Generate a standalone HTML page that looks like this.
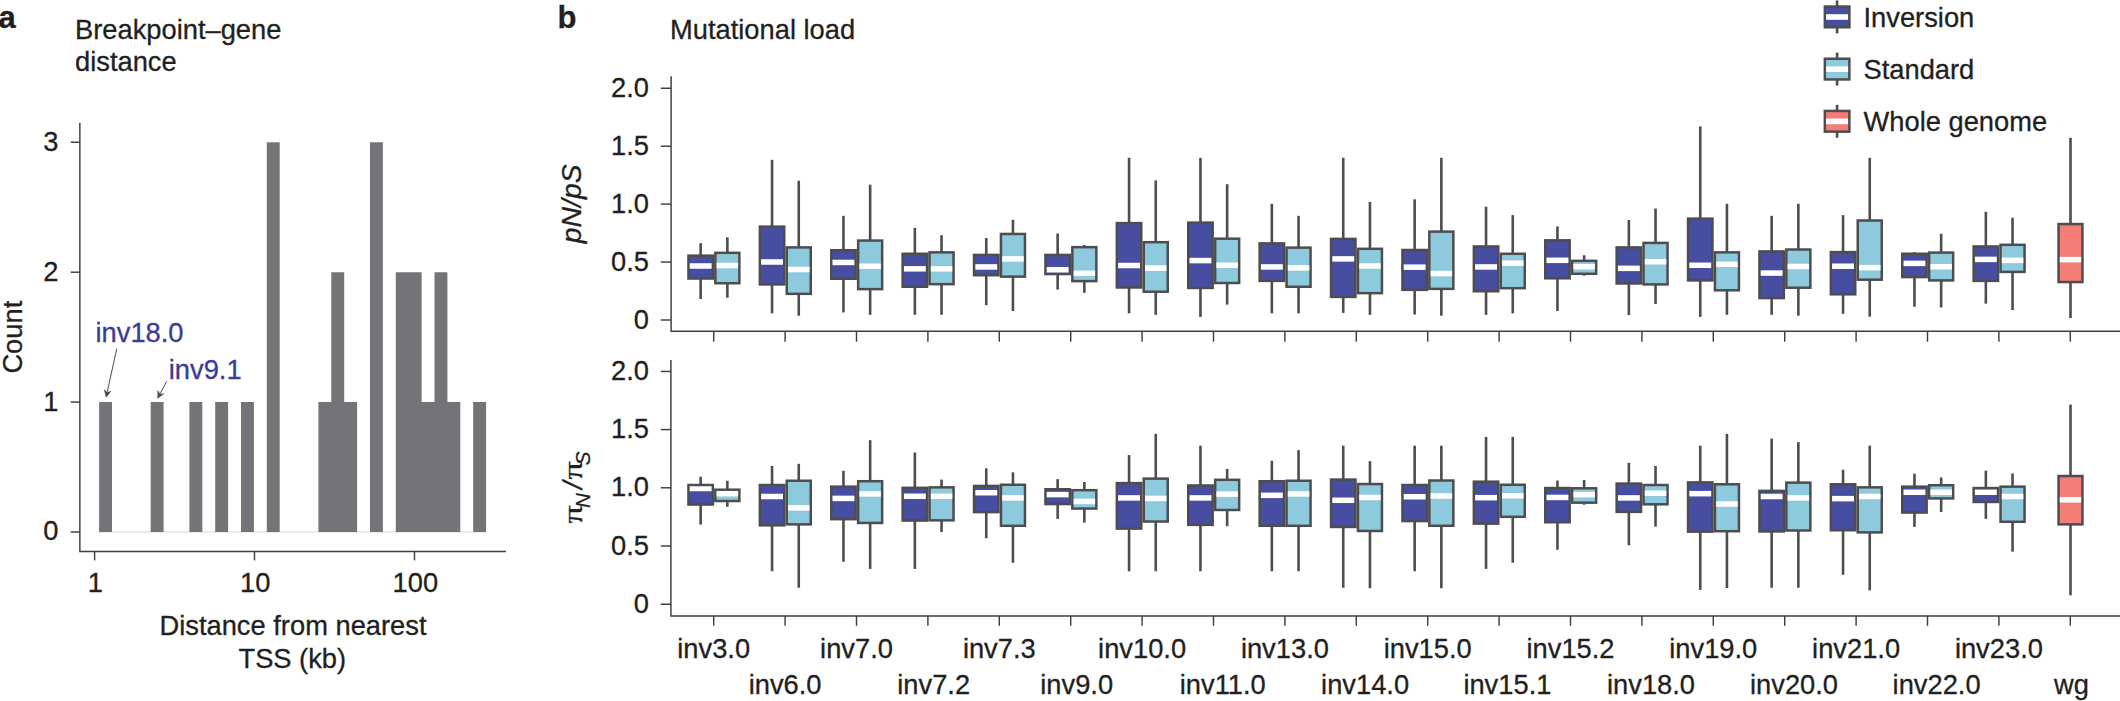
<!DOCTYPE html>
<html><head><meta charset="utf-8"><title>Figure</title>
<style>html,body{margin:0;padding:0;background:#fff}svg{display:block}text{font-family:"Liberation Sans",sans-serif;color:#231f20;fill:currentColor;stroke:currentColor;stroke-width:.3px}</style></head><body>
<svg width="2120" height="701" viewBox="0 0 2120 701">
<rect width="2120" height="701" fill="#fff"/>
<text x="-1.5" y="28" font-size="31" font-weight="bold">a</text>
<text x="75" y="39.1" font-size="27.3">Breakpoint–gene</text>
<text x="75" y="71.4" font-size="27.3">distance</text>
<rect x="99.1" y="531.4" width="387.0" height="1.1" fill="#d9d9da"/>
<path d="M99.10 532.00V402.10H112.00V532.00Z" fill="#737477"/>
<path d="M150.70 532.00V402.10H163.60V532.00Z" fill="#737477"/>
<path d="M189.40 532.00V402.10H202.30V532.00Z" fill="#737477"/>
<path d="M215.20 532.00V402.10H228.10V532.00Z" fill="#737477"/>
<path d="M241.00 532.00V402.10H253.90V532.00Z" fill="#737477"/>
<path d="M266.80 532.00V142.25H279.70V532.00Z" fill="#737477"/>
<path d="M318.40 532.00V402.10H331.30V272.20H344.20V402.10H357.10V532.00Z" fill="#737477"/>
<path d="M370.00 532.00V142.25H382.90V532.00Z" fill="#737477"/>
<path d="M395.80 532.00V272.20H408.70V272.20H421.60V402.10H434.50V272.20H447.40V402.10H460.30V532.00Z" fill="#737477"/>
<path d="M473.20 532.00V402.10H486.10V532.00Z" fill="#737477"/>
<path d="M79.85 122.8V551.4H506" fill="none" stroke="#3e3e40" stroke-width="1.45"/>
<line x1="70.7" x2="79.85" y1="532.0" y2="532.0" stroke="#3e3e40" stroke-width="1.45"/>
<text x="58.5" y="540.4" font-size="27.3" text-anchor="end">0</text>
<line x1="70.7" x2="79.85" y1="402.1" y2="402.1" stroke="#3e3e40" stroke-width="1.45"/>
<text x="58.5" y="410.5" font-size="27.3" text-anchor="end">1</text>
<line x1="70.7" x2="79.85" y1="272.2" y2="272.2" stroke="#3e3e40" stroke-width="1.45"/>
<text x="58.5" y="280.6" font-size="27.3" text-anchor="end">2</text>
<line x1="70.7" x2="79.85" y1="142.25" y2="142.25" stroke="#3e3e40" stroke-width="1.45"/>
<text x="58.5" y="150.7" font-size="27.3" text-anchor="end">3</text>
<line x1="94.6" x2="94.6" y1="551.4" y2="560.4" stroke="#3e3e40" stroke-width="1.45"/>
<text x="95.39999999999999" y="592.4" font-size="27.3" text-anchor="middle">1</text>
<line x1="254.5" x2="254.5" y1="551.4" y2="560.4" stroke="#3e3e40" stroke-width="1.45"/>
<text x="255.3" y="592.4" font-size="27.3" text-anchor="middle">10</text>
<line x1="414.5" x2="414.5" y1="551.4" y2="560.4" stroke="#3e3e40" stroke-width="1.45"/>
<text x="415.3" y="592.4" font-size="27.3" text-anchor="middle">100</text>
<text transform="translate(22.2 337.2) rotate(-90)" font-size="27.3" text-anchor="middle">Count</text>
<text x="293" y="634.6" font-size="27.3" text-anchor="middle">Distance from nearest</text>
<text x="292.3" y="667.5" font-size="27.3" text-anchor="middle">TSS (kb)</text>
<text x="95.5" y="342.1" font-size="27.3" style="color:#3b3b98">inv18.0</text>
<text x="168.8" y="378.5" font-size="27.3" style="color:#3b3b98">inv9.1</text>
<line x1="116.80" y1="348.50" x2="107.20" y2="392.23" stroke="#4d4d4f" stroke-width="1"/>
<path d="M106.00 397.70L103.81 389.03L107.20 392.23L111.62 390.74Z" fill="#4d4d4f"/>
<line x1="166.70" y1="381.30" x2="160.04" y2="393.76" stroke="#4d4d4f" stroke-width="1"/>
<path d="M157.40 398.70L157.64 389.76L160.04 393.76L164.70 393.53Z" fill="#4d4d4f"/>
<text x="557.5" y="28" font-size="31" font-weight="bold">b</text>
<text x="670" y="38.9" font-size="27.3">Mutational load</text>
<path d="M671.1 76.2V331.15H2120" fill="none" stroke="#3e3e40" stroke-width="1.45"/>
<path d="M670.9 360V615.9H2120" fill="none" stroke="#3e3e40" stroke-width="1.45"/>
<line x1="660.8" x2="671" y1="88.25" y2="88.25" stroke="#3e3e40" stroke-width="1.45"/>
<text x="649" y="96.8" font-size="27.3" text-anchor="end">2.0</text>
<line x1="660.8" x2="671" y1="146.2" y2="146.2" stroke="#3e3e40" stroke-width="1.45"/>
<text x="649" y="154.7" font-size="27.3" text-anchor="end">1.5</text>
<line x1="660.8" x2="671" y1="204.1" y2="204.1" stroke="#3e3e40" stroke-width="1.45"/>
<text x="649" y="212.6" font-size="27.3" text-anchor="end">1.0</text>
<line x1="660.8" x2="671" y1="262.05" y2="262.05" stroke="#3e3e40" stroke-width="1.45"/>
<text x="649" y="270.6" font-size="27.3" text-anchor="end">0.5</text>
<line x1="660.8" x2="671" y1="320.0" y2="320.0" stroke="#3e3e40" stroke-width="1.45"/>
<text x="649" y="328.5" font-size="27.3" text-anchor="end">0</text>
<line x1="660.8" x2="671" y1="371.45" y2="371.45" stroke="#3e3e40" stroke-width="1.45"/>
<text x="649" y="379.9" font-size="27.3" text-anchor="end">2.0</text>
<line x1="660.8" x2="671" y1="429.6" y2="429.6" stroke="#3e3e40" stroke-width="1.45"/>
<text x="649" y="438.1" font-size="27.3" text-anchor="end">1.5</text>
<line x1="660.8" x2="671" y1="487.8" y2="487.8" stroke="#3e3e40" stroke-width="1.45"/>
<text x="649" y="496.3" font-size="27.3" text-anchor="end">1.0</text>
<line x1="660.8" x2="671" y1="546.0" y2="546.0" stroke="#3e3e40" stroke-width="1.45"/>
<text x="649" y="554.5" font-size="27.3" text-anchor="end">0.5</text>
<line x1="660.8" x2="671" y1="604.25" y2="604.25" stroke="#3e3e40" stroke-width="1.45"/>
<text x="649" y="612.8" font-size="27.3" text-anchor="end">0</text>
<line x1="713.70" x2="713.70" y1="331.15" y2="341.7" stroke="#3e3e40" stroke-width="1.45"/>
<line x1="713.70" x2="713.70" y1="615.9" y2="625.8" stroke="#3e3e40" stroke-width="1.45"/>
<text x="713.70" y="657.6" font-size="27.3" text-anchor="middle">inv3.0</text>
<line x1="785.10" x2="785.10" y1="331.15" y2="341.7" stroke="#3e3e40" stroke-width="1.45"/>
<line x1="785.10" x2="785.10" y1="615.9" y2="625.8" stroke="#3e3e40" stroke-width="1.45"/>
<text x="785.10" y="694.4" font-size="27.3" text-anchor="middle">inv6.0</text>
<line x1="856.50" x2="856.50" y1="331.15" y2="341.7" stroke="#3e3e40" stroke-width="1.45"/>
<line x1="856.50" x2="856.50" y1="615.9" y2="625.8" stroke="#3e3e40" stroke-width="1.45"/>
<text x="856.50" y="657.6" font-size="27.3" text-anchor="middle">inv7.0</text>
<line x1="927.90" x2="927.90" y1="331.15" y2="341.7" stroke="#3e3e40" stroke-width="1.45"/>
<line x1="927.90" x2="927.90" y1="615.9" y2="625.8" stroke="#3e3e40" stroke-width="1.45"/>
<text x="933.70" y="694.4" font-size="27.3" text-anchor="middle">inv7.2</text>
<line x1="999.30" x2="999.30" y1="331.15" y2="341.7" stroke="#3e3e40" stroke-width="1.45"/>
<line x1="999.30" x2="999.30" y1="615.9" y2="625.8" stroke="#3e3e40" stroke-width="1.45"/>
<text x="999.30" y="657.6" font-size="27.3" text-anchor="middle">inv7.3</text>
<line x1="1070.70" x2="1070.70" y1="331.15" y2="341.7" stroke="#3e3e40" stroke-width="1.45"/>
<line x1="1070.70" x2="1070.70" y1="615.9" y2="625.8" stroke="#3e3e40" stroke-width="1.45"/>
<text x="1076.70" y="694.4" font-size="27.3" text-anchor="middle">inv9.0</text>
<line x1="1142.10" x2="1142.10" y1="331.15" y2="341.7" stroke="#3e3e40" stroke-width="1.45"/>
<line x1="1142.10" x2="1142.10" y1="615.9" y2="625.8" stroke="#3e3e40" stroke-width="1.45"/>
<text x="1142.10" y="657.6" font-size="27.3" text-anchor="middle">inv10.0</text>
<line x1="1213.50" x2="1213.50" y1="331.15" y2="341.7" stroke="#3e3e40" stroke-width="1.45"/>
<line x1="1213.50" x2="1213.50" y1="615.9" y2="625.8" stroke="#3e3e40" stroke-width="1.45"/>
<text x="1222.80" y="694.4" font-size="27.3" text-anchor="middle">inv11.0</text>
<line x1="1284.90" x2="1284.90" y1="331.15" y2="341.7" stroke="#3e3e40" stroke-width="1.45"/>
<line x1="1284.90" x2="1284.90" y1="615.9" y2="625.8" stroke="#3e3e40" stroke-width="1.45"/>
<text x="1284.90" y="657.6" font-size="27.3" text-anchor="middle">inv13.0</text>
<line x1="1356.30" x2="1356.30" y1="331.15" y2="341.7" stroke="#3e3e40" stroke-width="1.45"/>
<line x1="1356.30" x2="1356.30" y1="615.9" y2="625.8" stroke="#3e3e40" stroke-width="1.45"/>
<text x="1365.10" y="694.4" font-size="27.3" text-anchor="middle">inv14.0</text>
<line x1="1427.70" x2="1427.70" y1="331.15" y2="341.7" stroke="#3e3e40" stroke-width="1.45"/>
<line x1="1427.70" x2="1427.70" y1="615.9" y2="625.8" stroke="#3e3e40" stroke-width="1.45"/>
<text x="1427.70" y="657.6" font-size="27.3" text-anchor="middle">inv15.0</text>
<line x1="1499.10" x2="1499.10" y1="331.15" y2="341.7" stroke="#3e3e40" stroke-width="1.45"/>
<line x1="1499.10" x2="1499.10" y1="615.9" y2="625.8" stroke="#3e3e40" stroke-width="1.45"/>
<text x="1507.40" y="694.4" font-size="27.3" text-anchor="middle">inv15.1</text>
<line x1="1570.50" x2="1570.50" y1="331.15" y2="341.7" stroke="#3e3e40" stroke-width="1.45"/>
<line x1="1570.50" x2="1570.50" y1="615.9" y2="625.8" stroke="#3e3e40" stroke-width="1.45"/>
<text x="1570.50" y="657.6" font-size="27.3" text-anchor="middle">inv15.2</text>
<line x1="1641.90" x2="1641.90" y1="331.15" y2="341.7" stroke="#3e3e40" stroke-width="1.45"/>
<line x1="1641.90" x2="1641.90" y1="615.9" y2="625.8" stroke="#3e3e40" stroke-width="1.45"/>
<text x="1651.00" y="694.4" font-size="27.3" text-anchor="middle">inv18.0</text>
<line x1="1713.30" x2="1713.30" y1="331.15" y2="341.7" stroke="#3e3e40" stroke-width="1.45"/>
<line x1="1713.30" x2="1713.30" y1="615.9" y2="625.8" stroke="#3e3e40" stroke-width="1.45"/>
<text x="1713.30" y="657.6" font-size="27.3" text-anchor="middle">inv19.0</text>
<line x1="1784.70" x2="1784.70" y1="331.15" y2="341.7" stroke="#3e3e40" stroke-width="1.45"/>
<line x1="1784.70" x2="1784.70" y1="615.9" y2="625.8" stroke="#3e3e40" stroke-width="1.45"/>
<text x="1794.00" y="694.4" font-size="27.3" text-anchor="middle">inv20.0</text>
<line x1="1856.10" x2="1856.10" y1="331.15" y2="341.7" stroke="#3e3e40" stroke-width="1.45"/>
<line x1="1856.10" x2="1856.10" y1="615.9" y2="625.8" stroke="#3e3e40" stroke-width="1.45"/>
<text x="1856.10" y="657.6" font-size="27.3" text-anchor="middle">inv21.0</text>
<line x1="1927.50" x2="1927.50" y1="331.15" y2="341.7" stroke="#3e3e40" stroke-width="1.45"/>
<line x1="1927.50" x2="1927.50" y1="615.9" y2="625.8" stroke="#3e3e40" stroke-width="1.45"/>
<text x="1936.60" y="694.4" font-size="27.3" text-anchor="middle">inv22.0</text>
<line x1="1998.90" x2="1998.90" y1="331.15" y2="341.7" stroke="#3e3e40" stroke-width="1.45"/>
<line x1="1998.90" x2="1998.90" y1="615.9" y2="625.8" stroke="#3e3e40" stroke-width="1.45"/>
<text x="1998.90" y="657.6" font-size="27.3" text-anchor="middle">inv23.0</text>
<line x1="2070.30" x2="2070.30" y1="331.15" y2="341.7" stroke="#3e3e40" stroke-width="1.45"/>
<line x1="2070.30" x2="2070.30" y1="615.9" y2="625.8" stroke="#3e3e40" stroke-width="1.45"/>
<text x="2071.40" y="694.4" font-size="27.3" text-anchor="middle">wg</text>
<text transform="translate(581.2 203.8) rotate(-90)" font-size="28.3" font-style="italic" text-anchor="middle">pN/pS</text>
<g transform="translate(581.7 522.5) rotate(-90)">
<text transform="translate(-1 0) scale(1.3 1)" style="font-family:'Liberation Serif',serif" font-size="27.8">π</text>
<text x="14.4" y="8.5" font-size="20.6" font-style="italic">N</text>
<text transform="translate(31.9 0) skewX(-11)" font-size="27.3">/</text>
<text transform="translate(43 0) scale(1.3 1)" style="font-family:'Liberation Serif',serif" font-size="27.8">π</text>
<text x="57.2" y="8.5" font-size="20.6" font-style="italic">S</text>
</g>
<line x1="700.65" y1="243.18" x2="700.65" y2="255.41" stroke="#4d4d4f" stroke-width="2.6"/>
<line x1="700.65" y1="278.76" x2="700.65" y2="298.97" stroke="#4d4d4f" stroke-width="2.6"/>
<rect x="688.45" y="255.66" width="24.40" height="22.86" fill="#474ea1" stroke="#4d4d4f" stroke-width="2.5"/>
<rect x="689.70" y="263.24" width="21.90" height="5.50" fill="#fff"/>
<line x1="727.35" y1="237.29" x2="727.35" y2="252.58" stroke="#4d4d4f" stroke-width="2.6"/>
<line x1="727.35" y1="283.48" x2="727.35" y2="297.79" stroke="#4d4d4f" stroke-width="2.6"/>
<rect x="715.35" y="252.83" width="24.00" height="30.40" fill="#8ecade" stroke="#4d4d4f" stroke-width="2.5"/>
<rect x="716.60" y="262.77" width="21.50" height="5.50" fill="#fff"/>
<line x1="772.05" y1="159.80" x2="772.05" y2="226.40" stroke="#4d4d4f" stroke-width="2.6"/>
<line x1="772.05" y1="284.66" x2="772.05" y2="313.36" stroke="#4d4d4f" stroke-width="2.6"/>
<rect x="759.85" y="226.65" width="24.40" height="57.76" fill="#474ea1" stroke="#4d4d4f" stroke-width="2.5"/>
<rect x="761.10" y="259.23" width="21.90" height="5.50" fill="#fff"/>
<line x1="798.75" y1="180.68" x2="798.75" y2="247.15" stroke="#4d4d4f" stroke-width="2.6"/>
<line x1="798.75" y1="294.09" x2="798.75" y2="315.72" stroke="#4d4d4f" stroke-width="2.6"/>
<rect x="786.75" y="247.40" width="24.00" height="46.44" fill="#8ecade" stroke="#4d4d4f" stroke-width="2.5"/>
<rect x="788.00" y="266.78" width="21.50" height="5.50" fill="#fff"/>
<line x1="843.45" y1="215.83" x2="843.45" y2="249.98" stroke="#4d4d4f" stroke-width="2.6"/>
<line x1="843.45" y1="279.00" x2="843.45" y2="312.42" stroke="#4d4d4f" stroke-width="2.6"/>
<rect x="831.25" y="250.23" width="24.40" height="28.52" fill="#474ea1" stroke="#4d4d4f" stroke-width="2.5"/>
<rect x="832.50" y="259.70" width="21.90" height="5.50" fill="#fff"/>
<line x1="870.15" y1="184.69" x2="870.15" y2="240.31" stroke="#4d4d4f" stroke-width="2.6"/>
<line x1="870.15" y1="289.38" x2="870.15" y2="314.78" stroke="#4d4d4f" stroke-width="2.6"/>
<rect x="858.15" y="240.56" width="24.00" height="48.56" fill="#8ecade" stroke="#4d4d4f" stroke-width="2.5"/>
<rect x="859.40" y="263.48" width="21.50" height="5.50" fill="#fff"/>
<line x1="914.85" y1="227.85" x2="914.85" y2="253.52" stroke="#4d4d4f" stroke-width="2.6"/>
<line x1="914.85" y1="287.02" x2="914.85" y2="314.78" stroke="#4d4d4f" stroke-width="2.6"/>
<rect x="902.65" y="253.77" width="24.40" height="33.00" fill="#474ea1" stroke="#4d4d4f" stroke-width="2.5"/>
<rect x="903.90" y="266.07" width="21.90" height="5.50" fill="#fff"/>
<line x1="941.55" y1="235.17" x2="941.55" y2="252.10" stroke="#4d4d4f" stroke-width="2.6"/>
<line x1="941.55" y1="284.42" x2="941.55" y2="314.78" stroke="#4d4d4f" stroke-width="2.6"/>
<rect x="929.55" y="252.35" width="24.00" height="31.82" fill="#8ecade" stroke="#4d4d4f" stroke-width="2.5"/>
<rect x="930.80" y="266.07" width="21.50" height="5.50" fill="#fff"/>
<line x1="986.25" y1="238.00" x2="986.25" y2="254.70" stroke="#4d4d4f" stroke-width="2.6"/>
<line x1="986.25" y1="275.46" x2="986.25" y2="305.11" stroke="#4d4d4f" stroke-width="2.6"/>
<rect x="974.05" y="254.95" width="24.40" height="20.26" fill="#474ea1" stroke="#4d4d4f" stroke-width="2.5"/>
<rect x="975.30" y="264.18" width="21.90" height="5.50" fill="#fff"/>
<line x1="1012.95" y1="219.84" x2="1012.95" y2="233.71" stroke="#4d4d4f" stroke-width="2.6"/>
<line x1="1012.95" y1="276.88" x2="1012.95" y2="311.00" stroke="#4d4d4f" stroke-width="2.6"/>
<rect x="1000.95" y="233.96" width="24.00" height="42.67" fill="#8ecade" stroke="#4d4d4f" stroke-width="2.5"/>
<rect x="1002.20" y="256.17" width="21.50" height="5.50" fill="#fff"/>
<line x1="1057.65" y1="233.52" x2="1057.65" y2="254.70" stroke="#4d4d4f" stroke-width="2.6"/>
<line x1="1057.65" y1="274.28" x2="1057.65" y2="289.54" stroke="#4d4d4f" stroke-width="2.6"/>
<rect x="1045.45" y="254.95" width="24.40" height="19.08" fill="#474ea1" stroke="#4d4d4f" stroke-width="2.5"/>
<rect x="1046.70" y="267.01" width="21.90" height="5.50" fill="#fff"/>
<line x1="1084.35" y1="245.07" x2="1084.35" y2="246.92" stroke="#4d4d4f" stroke-width="2.6"/>
<line x1="1084.35" y1="281.36" x2="1084.35" y2="292.84" stroke="#4d4d4f" stroke-width="2.6"/>
<rect x="1072.35" y="247.17" width="24.00" height="33.94" fill="#8ecade" stroke="#4d4d4f" stroke-width="2.5"/>
<rect x="1073.60" y="270.55" width="21.50" height="5.50" fill="#fff"/>
<line x1="1129.05" y1="157.80" x2="1129.05" y2="222.86" stroke="#4d4d4f" stroke-width="2.6"/>
<line x1="1129.05" y1="287.72" x2="1129.05" y2="313.36" stroke="#4d4d4f" stroke-width="2.6"/>
<rect x="1116.85" y="223.11" width="24.40" height="64.37" fill="#474ea1" stroke="#4d4d4f" stroke-width="2.5"/>
<rect x="1118.10" y="262.77" width="21.90" height="5.50" fill="#fff"/>
<line x1="1155.75" y1="180.45" x2="1155.75" y2="241.96" stroke="#4d4d4f" stroke-width="2.6"/>
<line x1="1155.75" y1="291.97" x2="1155.75" y2="314.78" stroke="#4d4d4f" stroke-width="2.6"/>
<rect x="1143.75" y="242.21" width="24.00" height="49.51" fill="#8ecade" stroke="#4d4d4f" stroke-width="2.5"/>
<rect x="1145.00" y="265.36" width="21.50" height="5.50" fill="#fff"/>
<line x1="1200.45" y1="157.80" x2="1200.45" y2="222.39" stroke="#4d4d4f" stroke-width="2.6"/>
<line x1="1200.45" y1="288.20" x2="1200.45" y2="316.90" stroke="#4d4d4f" stroke-width="2.6"/>
<rect x="1188.25" y="222.64" width="24.40" height="65.31" fill="#474ea1" stroke="#4d4d4f" stroke-width="2.5"/>
<rect x="1189.50" y="257.82" width="21.90" height="5.50" fill="#fff"/>
<line x1="1227.15" y1="184.22" x2="1227.15" y2="238.42" stroke="#4d4d4f" stroke-width="2.6"/>
<line x1="1227.15" y1="283.24" x2="1227.15" y2="304.63" stroke="#4d4d4f" stroke-width="2.6"/>
<rect x="1215.15" y="238.67" width="24.00" height="44.32" fill="#8ecade" stroke="#4d4d4f" stroke-width="2.5"/>
<rect x="1216.40" y="262.53" width="21.50" height="5.50" fill="#fff"/>
<line x1="1271.85" y1="203.80" x2="1271.85" y2="243.14" stroke="#4d4d4f" stroke-width="2.6"/>
<line x1="1271.85" y1="281.12" x2="1271.85" y2="313.36" stroke="#4d4d4f" stroke-width="2.6"/>
<rect x="1259.65" y="243.39" width="24.40" height="37.48" fill="#474ea1" stroke="#4d4d4f" stroke-width="2.5"/>
<rect x="1260.90" y="264.18" width="21.90" height="5.50" fill="#fff"/>
<line x1="1298.55" y1="215.83" x2="1298.55" y2="247.39" stroke="#4d4d4f" stroke-width="2.6"/>
<line x1="1298.55" y1="287.02" x2="1298.55" y2="313.36" stroke="#4d4d4f" stroke-width="2.6"/>
<rect x="1286.55" y="247.64" width="24.00" height="39.13" fill="#8ecade" stroke="#4d4d4f" stroke-width="2.5"/>
<rect x="1287.80" y="265.13" width="21.50" height="5.50" fill="#fff"/>
<line x1="1343.25" y1="157.80" x2="1343.25" y2="238.66" stroke="#4d4d4f" stroke-width="2.6"/>
<line x1="1343.25" y1="297.16" x2="1343.25" y2="312.89" stroke="#4d4d4f" stroke-width="2.6"/>
<rect x="1331.05" y="238.91" width="24.40" height="58.00" fill="#474ea1" stroke="#4d4d4f" stroke-width="2.5"/>
<rect x="1332.30" y="256.17" width="21.90" height="5.50" fill="#fff"/>
<line x1="1369.95" y1="201.91" x2="1369.95" y2="248.57" stroke="#4d4d4f" stroke-width="2.6"/>
<line x1="1369.95" y1="293.38" x2="1369.95" y2="314.78" stroke="#4d4d4f" stroke-width="2.6"/>
<rect x="1357.95" y="248.82" width="24.00" height="44.32" fill="#8ecade" stroke="#4d4d4f" stroke-width="2.5"/>
<rect x="1359.20" y="263.24" width="21.50" height="5.50" fill="#fff"/>
<line x1="1414.65" y1="199.32" x2="1414.65" y2="249.75" stroke="#4d4d4f" stroke-width="2.6"/>
<line x1="1414.65" y1="290.08" x2="1414.65" y2="314.54" stroke="#4d4d4f" stroke-width="2.6"/>
<rect x="1402.45" y="250.00" width="24.40" height="39.84" fill="#474ea1" stroke="#4d4d4f" stroke-width="2.5"/>
<rect x="1403.70" y="264.42" width="21.90" height="5.50" fill="#fff"/>
<line x1="1441.35" y1="157.80" x2="1441.35" y2="231.35" stroke="#4d4d4f" stroke-width="2.6"/>
<line x1="1441.35" y1="289.14" x2="1441.35" y2="315.72" stroke="#4d4d4f" stroke-width="2.6"/>
<rect x="1429.35" y="231.60" width="24.00" height="57.29" fill="#8ecade" stroke="#4d4d4f" stroke-width="2.5"/>
<rect x="1430.60" y="270.79" width="21.50" height="5.50" fill="#fff"/>
<line x1="1486.05" y1="206.63" x2="1486.05" y2="246.21" stroke="#4d4d4f" stroke-width="2.6"/>
<line x1="1486.05" y1="291.50" x2="1486.05" y2="314.78" stroke="#4d4d4f" stroke-width="2.6"/>
<rect x="1473.85" y="246.46" width="24.40" height="44.79" fill="#474ea1" stroke="#4d4d4f" stroke-width="2.5"/>
<rect x="1475.10" y="264.18" width="21.90" height="5.50" fill="#fff"/>
<line x1="1512.75" y1="215.12" x2="1512.75" y2="253.52" stroke="#4d4d4f" stroke-width="2.6"/>
<line x1="1512.75" y1="288.43" x2="1512.75" y2="313.36" stroke="#4d4d4f" stroke-width="2.6"/>
<rect x="1500.75" y="253.77" width="24.00" height="34.41" fill="#8ecade" stroke="#4d4d4f" stroke-width="2.5"/>
<rect x="1502.00" y="260.41" width="21.50" height="5.50" fill="#fff"/>
<line x1="1557.45" y1="226.44" x2="1557.45" y2="240.08" stroke="#4d4d4f" stroke-width="2.6"/>
<line x1="1557.45" y1="278.53" x2="1557.45" y2="311.00" stroke="#4d4d4f" stroke-width="2.6"/>
<rect x="1545.25" y="240.33" width="24.40" height="37.95" fill="#474ea1" stroke="#4d4d4f" stroke-width="2.5"/>
<rect x="1546.50" y="257.58" width="21.90" height="5.50" fill="#fff"/>
<line x1="1584.15" y1="255.21" x2="1584.15" y2="260.59" stroke="#4d4d4f" stroke-width="2.6"/>
<line x1="1584.15" y1="274.05" x2="1584.15" y2="275.62" stroke="#4d4d4f" stroke-width="2.6"/>
<rect x="1572.15" y="260.84" width="24.00" height="12.95" fill="#8ecade" stroke="#4d4d4f" stroke-width="2.5"/>
<rect x="1573.40" y="263.95" width="21.50" height="5.50" fill="#fff"/>
<line x1="1628.85" y1="220.07" x2="1628.85" y2="247.15" stroke="#4d4d4f" stroke-width="2.6"/>
<line x1="1628.85" y1="283.72" x2="1628.85" y2="315.01" stroke="#4d4d4f" stroke-width="2.6"/>
<rect x="1616.65" y="247.40" width="24.40" height="36.06" fill="#474ea1" stroke="#4d4d4f" stroke-width="2.5"/>
<rect x="1617.90" y="265.60" width="21.90" height="5.50" fill="#fff"/>
<line x1="1655.55" y1="208.52" x2="1655.55" y2="242.67" stroke="#4d4d4f" stroke-width="2.6"/>
<line x1="1655.55" y1="284.66" x2="1655.55" y2="303.93" stroke="#4d4d4f" stroke-width="2.6"/>
<rect x="1643.55" y="242.92" width="24.00" height="41.49" fill="#8ecade" stroke="#4d4d4f" stroke-width="2.5"/>
<rect x="1644.80" y="259.00" width="21.50" height="5.50" fill="#fff"/>
<line x1="1700.25" y1="126.40" x2="1700.25" y2="218.38" stroke="#4d4d4f" stroke-width="2.6"/>
<line x1="1700.25" y1="280.65" x2="1700.25" y2="316.90" stroke="#4d4d4f" stroke-width="2.6"/>
<rect x="1688.05" y="218.63" width="24.40" height="61.77" fill="#474ea1" stroke="#4d4d4f" stroke-width="2.5"/>
<rect x="1689.30" y="262.53" width="21.90" height="5.50" fill="#fff"/>
<line x1="1726.95" y1="203.80" x2="1726.95" y2="252.10" stroke="#4d4d4f" stroke-width="2.6"/>
<line x1="1726.95" y1="290.55" x2="1726.95" y2="314.78" stroke="#4d4d4f" stroke-width="2.6"/>
<rect x="1714.95" y="252.35" width="24.00" height="37.95" fill="#8ecade" stroke="#4d4d4f" stroke-width="2.5"/>
<rect x="1716.20" y="261.59" width="21.50" height="5.50" fill="#fff"/>
<line x1="1771.65" y1="215.83" x2="1771.65" y2="251.16" stroke="#4d4d4f" stroke-width="2.6"/>
<line x1="1771.65" y1="298.34" x2="1771.65" y2="314.78" stroke="#4d4d4f" stroke-width="2.6"/>
<rect x="1759.45" y="251.41" width="24.40" height="46.68" fill="#474ea1" stroke="#4d4d4f" stroke-width="2.5"/>
<rect x="1760.70" y="270.32" width="21.90" height="5.50" fill="#fff"/>
<line x1="1798.35" y1="203.80" x2="1798.35" y2="249.27" stroke="#4d4d4f" stroke-width="2.6"/>
<line x1="1798.35" y1="287.96" x2="1798.35" y2="315.72" stroke="#4d4d4f" stroke-width="2.6"/>
<rect x="1786.35" y="249.52" width="24.00" height="38.19" fill="#8ecade" stroke="#4d4d4f" stroke-width="2.5"/>
<rect x="1787.60" y="263.71" width="21.50" height="5.50" fill="#fff"/>
<line x1="1843.05" y1="215.12" x2="1843.05" y2="251.87" stroke="#4d4d4f" stroke-width="2.6"/>
<line x1="1843.05" y1="294.56" x2="1843.05" y2="313.83" stroke="#4d4d4f" stroke-width="2.6"/>
<rect x="1830.85" y="252.12" width="24.40" height="42.20" fill="#474ea1" stroke="#4d4d4f" stroke-width="2.5"/>
<rect x="1832.10" y="263.48" width="21.90" height="5.50" fill="#fff"/>
<line x1="1869.75" y1="157.80" x2="1869.75" y2="220.26" stroke="#4d4d4f" stroke-width="2.6"/>
<line x1="1869.75" y1="279.94" x2="1869.75" y2="316.66" stroke="#4d4d4f" stroke-width="2.6"/>
<rect x="1857.75" y="220.51" width="24.00" height="59.18" fill="#8ecade" stroke="#4d4d4f" stroke-width="2.5"/>
<rect x="1859.00" y="264.89" width="21.50" height="5.50" fill="#fff"/>
<line x1="1914.45" y1="252.15" x2="1914.45" y2="253.52" stroke="#4d4d4f" stroke-width="2.6"/>
<line x1="1914.45" y1="277.35" x2="1914.45" y2="306.76" stroke="#4d4d4f" stroke-width="2.6"/>
<rect x="1902.25" y="253.77" width="24.40" height="23.33" fill="#474ea1" stroke="#4d4d4f" stroke-width="2.5"/>
<rect x="1903.50" y="260.65" width="21.90" height="5.50" fill="#fff"/>
<line x1="1941.15" y1="233.75" x2="1941.15" y2="252.34" stroke="#4d4d4f" stroke-width="2.6"/>
<line x1="1941.15" y1="280.65" x2="1941.15" y2="307.46" stroke="#4d4d4f" stroke-width="2.6"/>
<rect x="1929.15" y="252.59" width="24.00" height="27.81" fill="#8ecade" stroke="#4d4d4f" stroke-width="2.5"/>
<rect x="1930.40" y="263.95" width="21.50" height="5.50" fill="#fff"/>
<line x1="1985.85" y1="211.82" x2="1985.85" y2="246.21" stroke="#4d4d4f" stroke-width="2.6"/>
<line x1="1985.85" y1="281.12" x2="1985.85" y2="303.69" stroke="#4d4d4f" stroke-width="2.6"/>
<rect x="1973.65" y="246.46" width="24.40" height="34.41" fill="#474ea1" stroke="#4d4d4f" stroke-width="2.5"/>
<rect x="1974.90" y="256.64" width="21.90" height="5.50" fill="#fff"/>
<line x1="2012.55" y1="217.71" x2="2012.55" y2="244.56" stroke="#4d4d4f" stroke-width="2.6"/>
<line x1="2012.55" y1="272.16" x2="2012.55" y2="310.06" stroke="#4d4d4f" stroke-width="2.6"/>
<rect x="2000.55" y="244.81" width="24.00" height="27.10" fill="#8ecade" stroke="#4d4d4f" stroke-width="2.5"/>
<rect x="2001.80" y="257.58" width="21.50" height="5.50" fill="#fff"/>
<line x1="2070.50" y1="137.80" x2="2070.50" y2="223.80" stroke="#4d4d4f" stroke-width="2.6"/>
<line x1="2070.50" y1="282.30" x2="2070.50" y2="318.08" stroke="#4d4d4f" stroke-width="2.6"/>
<rect x="2058.55" y="224.05" width="23.90" height="58.00" fill="#f47d76" stroke="#4d4d4f" stroke-width="2.5"/>
<rect x="2059.80" y="256.87" width="21.40" height="5.50" fill="#fff"/>
<line x1="700.65" y1="476.77" x2="700.65" y2="484.75" stroke="#4d4d4f" stroke-width="2.6"/>
<line x1="700.65" y1="504.80" x2="700.65" y2="524.54" stroke="#4d4d4f" stroke-width="2.6"/>
<rect x="688.45" y="485.00" width="24.40" height="19.55" fill="#474ea1" stroke="#4d4d4f" stroke-width="2.5"/>
<rect x="689.70" y="486.25" width="21.90" height="5.00" fill="#fff"/>
<line x1="727.35" y1="480.78" x2="727.35" y2="489.46" stroke="#4d4d4f" stroke-width="2.6"/>
<line x1="727.35" y1="501.26" x2="727.35" y2="506.85" stroke="#4d4d4f" stroke-width="2.6"/>
<rect x="715.35" y="489.71" width="24.00" height="11.30" fill="#8ecade" stroke="#4d4d4f" stroke-width="2.5"/>
<rect x="716.60" y="490.96" width="21.50" height="5.47" fill="#fff"/>
<line x1="772.05" y1="465.92" x2="772.05" y2="484.75" stroke="#4d4d4f" stroke-width="2.6"/>
<line x1="772.05" y1="525.55" x2="772.05" y2="571.24" stroke="#4d4d4f" stroke-width="2.6"/>
<rect x="759.85" y="485.00" width="24.40" height="40.31" fill="#474ea1" stroke="#4d4d4f" stroke-width="2.5"/>
<rect x="761.10" y="493.76" width="21.90" height="5.50" fill="#fff"/>
<line x1="798.75" y1="463.80" x2="798.75" y2="480.50" stroke="#4d4d4f" stroke-width="2.6"/>
<line x1="798.75" y1="524.61" x2="798.75" y2="587.75" stroke="#4d4d4f" stroke-width="2.6"/>
<rect x="786.75" y="480.75" width="24.00" height="43.61" fill="#8ecade" stroke="#4d4d4f" stroke-width="2.5"/>
<rect x="788.00" y="505.08" width="21.50" height="5.50" fill="#fff"/>
<line x1="843.45" y1="470.87" x2="843.45" y2="486.40" stroke="#4d4d4f" stroke-width="2.6"/>
<line x1="843.45" y1="519.42" x2="843.45" y2="561.80" stroke="#4d4d4f" stroke-width="2.6"/>
<rect x="831.25" y="486.65" width="24.40" height="32.53" fill="#474ea1" stroke="#4d4d4f" stroke-width="2.5"/>
<rect x="832.50" y="495.65" width="21.90" height="5.50" fill="#fff"/>
<line x1="870.15" y1="440.21" x2="870.15" y2="480.97" stroke="#4d4d4f" stroke-width="2.6"/>
<line x1="870.15" y1="523.20" x2="870.15" y2="568.88" stroke="#4d4d4f" stroke-width="2.6"/>
<rect x="858.15" y="481.22" width="24.00" height="41.72" fill="#8ecade" stroke="#4d4d4f" stroke-width="2.5"/>
<rect x="859.40" y="491.17" width="21.50" height="5.50" fill="#fff"/>
<line x1="914.85" y1="452.48" x2="914.85" y2="487.58" stroke="#4d4d4f" stroke-width="2.6"/>
<line x1="914.85" y1="520.84" x2="914.85" y2="568.88" stroke="#4d4d4f" stroke-width="2.6"/>
<rect x="902.65" y="487.83" width="24.40" height="32.76" fill="#474ea1" stroke="#4d4d4f" stroke-width="2.5"/>
<rect x="903.90" y="493.52" width="21.90" height="5.50" fill="#fff"/>
<line x1="941.55" y1="479.60" x2="941.55" y2="487.10" stroke="#4d4d4f" stroke-width="2.6"/>
<line x1="941.55" y1="520.60" x2="941.55" y2="532.09" stroke="#4d4d4f" stroke-width="2.6"/>
<rect x="929.55" y="487.35" width="24.00" height="33.00" fill="#8ecade" stroke="#4d4d4f" stroke-width="2.5"/>
<rect x="930.80" y="493.52" width="21.50" height="5.50" fill="#fff"/>
<line x1="986.25" y1="468.28" x2="986.25" y2="485.69" stroke="#4d4d4f" stroke-width="2.6"/>
<line x1="986.25" y1="512.35" x2="986.25" y2="538.22" stroke="#4d4d4f" stroke-width="2.6"/>
<rect x="974.05" y="485.94" width="24.40" height="26.16" fill="#474ea1" stroke="#4d4d4f" stroke-width="2.5"/>
<rect x="975.30" y="489.99" width="21.90" height="5.50" fill="#fff"/>
<line x1="1012.95" y1="472.29" x2="1012.95" y2="484.51" stroke="#4d4d4f" stroke-width="2.6"/>
<line x1="1012.95" y1="526.03" x2="1012.95" y2="562.75" stroke="#4d4d4f" stroke-width="2.6"/>
<rect x="1000.95" y="484.76" width="24.00" height="41.02" fill="#8ecade" stroke="#4d4d4f" stroke-width="2.5"/>
<rect x="1002.20" y="495.17" width="21.50" height="5.50" fill="#fff"/>
<line x1="1057.65" y1="479.13" x2="1057.65" y2="488.99" stroke="#4d4d4f" stroke-width="2.6"/>
<line x1="1057.65" y1="504.33" x2="1057.65" y2="518.88" stroke="#4d4d4f" stroke-width="2.6"/>
<rect x="1045.45" y="489.24" width="24.40" height="14.84" fill="#474ea1" stroke="#4d4d4f" stroke-width="2.5"/>
<rect x="1046.70" y="491.87" width="21.90" height="5.50" fill="#fff"/>
<line x1="1084.35" y1="481.96" x2="1084.35" y2="489.93" stroke="#4d4d4f" stroke-width="2.6"/>
<line x1="1084.35" y1="508.81" x2="1084.35" y2="522.65" stroke="#4d4d4f" stroke-width="2.6"/>
<rect x="1072.35" y="490.18" width="24.00" height="18.38" fill="#8ecade" stroke="#4d4d4f" stroke-width="2.5"/>
<rect x="1073.60" y="498.71" width="21.50" height="5.50" fill="#fff"/>
<line x1="1129.05" y1="455.07" x2="1129.05" y2="482.86" stroke="#4d4d4f" stroke-width="2.6"/>
<line x1="1129.05" y1="528.86" x2="1129.05" y2="571.24" stroke="#4d4d4f" stroke-width="2.6"/>
<rect x="1116.85" y="483.11" width="24.40" height="45.50" fill="#474ea1" stroke="#4d4d4f" stroke-width="2.5"/>
<rect x="1118.10" y="495.17" width="21.90" height="5.50" fill="#fff"/>
<line x1="1155.75" y1="433.85" x2="1155.75" y2="478.38" stroke="#4d4d4f" stroke-width="2.6"/>
<line x1="1155.75" y1="521.78" x2="1155.75" y2="571.24" stroke="#4d4d4f" stroke-width="2.6"/>
<rect x="1143.75" y="478.63" width="24.00" height="42.90" fill="#8ecade" stroke="#4d4d4f" stroke-width="2.5"/>
<rect x="1145.00" y="495.65" width="21.50" height="5.50" fill="#fff"/>
<line x1="1200.45" y1="445.64" x2="1200.45" y2="485.22" stroke="#4d4d4f" stroke-width="2.6"/>
<line x1="1200.45" y1="525.08" x2="1200.45" y2="571.24" stroke="#4d4d4f" stroke-width="2.6"/>
<rect x="1188.25" y="485.47" width="24.40" height="39.37" fill="#474ea1" stroke="#4d4d4f" stroke-width="2.5"/>
<rect x="1189.50" y="495.17" width="21.90" height="5.50" fill="#fff"/>
<line x1="1227.15" y1="468.99" x2="1227.15" y2="479.56" stroke="#4d4d4f" stroke-width="2.6"/>
<line x1="1227.15" y1="510.22" x2="1227.15" y2="526.19" stroke="#4d4d4f" stroke-width="2.6"/>
<rect x="1215.15" y="479.81" width="24.00" height="30.17" fill="#8ecade" stroke="#4d4d4f" stroke-width="2.5"/>
<rect x="1216.40" y="491.40" width="21.50" height="5.50" fill="#fff"/>
<line x1="1271.85" y1="460.73" x2="1271.85" y2="480.97" stroke="#4d4d4f" stroke-width="2.6"/>
<line x1="1271.85" y1="526.03" x2="1271.85" y2="571.24" stroke="#4d4d4f" stroke-width="2.6"/>
<rect x="1259.65" y="481.22" width="24.40" height="44.55" fill="#474ea1" stroke="#4d4d4f" stroke-width="2.5"/>
<rect x="1260.90" y="492.58" width="21.90" height="5.50" fill="#fff"/>
<line x1="1298.55" y1="450.12" x2="1298.55" y2="480.50" stroke="#4d4d4f" stroke-width="2.6"/>
<line x1="1298.55" y1="526.03" x2="1298.55" y2="571.24" stroke="#4d4d4f" stroke-width="2.6"/>
<rect x="1286.55" y="480.75" width="24.00" height="45.03" fill="#8ecade" stroke="#4d4d4f" stroke-width="2.5"/>
<rect x="1287.80" y="491.17" width="21.50" height="5.50" fill="#fff"/>
<line x1="1343.25" y1="445.64" x2="1343.25" y2="479.32" stroke="#4d4d4f" stroke-width="2.6"/>
<line x1="1343.25" y1="527.21" x2="1343.25" y2="587.75" stroke="#4d4d4f" stroke-width="2.6"/>
<rect x="1331.05" y="479.57" width="24.40" height="47.38" fill="#474ea1" stroke="#4d4d4f" stroke-width="2.5"/>
<rect x="1332.30" y="497.53" width="21.90" height="5.50" fill="#fff"/>
<line x1="1369.95" y1="461.20" x2="1369.95" y2="483.80" stroke="#4d4d4f" stroke-width="2.6"/>
<line x1="1369.95" y1="531.22" x2="1369.95" y2="588.22" stroke="#4d4d4f" stroke-width="2.6"/>
<rect x="1357.95" y="484.05" width="24.00" height="46.91" fill="#8ecade" stroke="#4d4d4f" stroke-width="2.5"/>
<rect x="1359.20" y="494.70" width="21.50" height="5.50" fill="#fff"/>
<line x1="1414.65" y1="445.64" x2="1414.65" y2="484.75" stroke="#4d4d4f" stroke-width="2.6"/>
<line x1="1414.65" y1="521.31" x2="1414.65" y2="571.24" stroke="#4d4d4f" stroke-width="2.6"/>
<rect x="1402.45" y="485.00" width="24.40" height="36.06" fill="#474ea1" stroke="#4d4d4f" stroke-width="2.5"/>
<rect x="1403.70" y="494.00" width="21.90" height="5.50" fill="#fff"/>
<line x1="1441.35" y1="445.64" x2="1441.35" y2="480.26" stroke="#4d4d4f" stroke-width="2.6"/>
<line x1="1441.35" y1="526.03" x2="1441.35" y2="588.22" stroke="#4d4d4f" stroke-width="2.6"/>
<rect x="1429.35" y="480.51" width="24.00" height="45.26" fill="#8ecade" stroke="#4d4d4f" stroke-width="2.5"/>
<rect x="1430.60" y="493.29" width="21.50" height="5.50" fill="#fff"/>
<line x1="1486.05" y1="436.91" x2="1486.05" y2="481.44" stroke="#4d4d4f" stroke-width="2.6"/>
<line x1="1486.05" y1="523.90" x2="1486.05" y2="568.88" stroke="#4d4d4f" stroke-width="2.6"/>
<rect x="1473.85" y="481.69" width="24.40" height="41.96" fill="#474ea1" stroke="#4d4d4f" stroke-width="2.5"/>
<rect x="1475.10" y="494.94" width="21.90" height="5.50" fill="#fff"/>
<line x1="1512.75" y1="436.91" x2="1512.75" y2="484.51" stroke="#4d4d4f" stroke-width="2.6"/>
<line x1="1512.75" y1="517.06" x2="1512.75" y2="562.75" stroke="#4d4d4f" stroke-width="2.6"/>
<rect x="1500.75" y="484.76" width="24.00" height="32.05" fill="#8ecade" stroke="#4d4d4f" stroke-width="2.5"/>
<rect x="1502.00" y="493.05" width="21.50" height="5.50" fill="#fff"/>
<line x1="1557.45" y1="480.54" x2="1557.45" y2="487.81" stroke="#4d4d4f" stroke-width="2.6"/>
<line x1="1557.45" y1="522.49" x2="1557.45" y2="549.78" stroke="#4d4d4f" stroke-width="2.6"/>
<rect x="1545.25" y="488.06" width="24.40" height="34.18" fill="#474ea1" stroke="#4d4d4f" stroke-width="2.5"/>
<rect x="1546.50" y="494.70" width="21.90" height="5.50" fill="#fff"/>
<line x1="1584.15" y1="480.07" x2="1584.15" y2="488.05" stroke="#4d4d4f" stroke-width="2.6"/>
<line x1="1584.15" y1="502.91" x2="1584.15" y2="504.73" stroke="#4d4d4f" stroke-width="2.6"/>
<rect x="1572.15" y="488.30" width="24.00" height="14.37" fill="#8ecade" stroke="#4d4d4f" stroke-width="2.5"/>
<rect x="1573.40" y="491.87" width="21.50" height="5.50" fill="#fff"/>
<line x1="1628.85" y1="462.85" x2="1628.85" y2="483.33" stroke="#4d4d4f" stroke-width="2.6"/>
<line x1="1628.85" y1="512.11" x2="1628.85" y2="545.29" stroke="#4d4d4f" stroke-width="2.6"/>
<rect x="1616.65" y="483.58" width="24.40" height="28.28" fill="#474ea1" stroke="#4d4d4f" stroke-width="2.5"/>
<rect x="1617.90" y="495.17" width="21.90" height="5.50" fill="#fff"/>
<line x1="1655.55" y1="465.92" x2="1655.55" y2="484.75" stroke="#4d4d4f" stroke-width="2.6"/>
<line x1="1655.55" y1="504.56" x2="1655.55" y2="526.66" stroke="#4d4d4f" stroke-width="2.6"/>
<rect x="1643.55" y="485.00" width="24.00" height="19.32" fill="#8ecade" stroke="#4d4d4f" stroke-width="2.5"/>
<rect x="1644.80" y="490.46" width="21.50" height="5.50" fill="#fff"/>
<line x1="1700.25" y1="445.64" x2="1700.25" y2="482.15" stroke="#4d4d4f" stroke-width="2.6"/>
<line x1="1700.25" y1="531.92" x2="1700.25" y2="589.87" stroke="#4d4d4f" stroke-width="2.6"/>
<rect x="1688.05" y="482.40" width="24.40" height="49.27" fill="#474ea1" stroke="#4d4d4f" stroke-width="2.5"/>
<rect x="1689.30" y="490.93" width="21.90" height="5.50" fill="#fff"/>
<line x1="1726.95" y1="433.85" x2="1726.95" y2="484.04" stroke="#4d4d4f" stroke-width="2.6"/>
<line x1="1726.95" y1="531.45" x2="1726.95" y2="587.98" stroke="#4d4d4f" stroke-width="2.6"/>
<rect x="1714.95" y="484.29" width="24.00" height="46.91" fill="#8ecade" stroke="#4d4d4f" stroke-width="2.5"/>
<rect x="1716.20" y="501.31" width="21.50" height="5.50" fill="#fff"/>
<line x1="1771.65" y1="438.56" x2="1771.65" y2="490.64" stroke="#4d4d4f" stroke-width="2.6"/>
<line x1="1771.65" y1="531.69" x2="1771.65" y2="587.75" stroke="#4d4d4f" stroke-width="2.6"/>
<rect x="1759.45" y="490.89" width="24.40" height="40.55" fill="#474ea1" stroke="#4d4d4f" stroke-width="2.5"/>
<rect x="1760.70" y="493.76" width="21.90" height="5.50" fill="#fff"/>
<line x1="1798.35" y1="442.10" x2="1798.35" y2="482.39" stroke="#4d4d4f" stroke-width="2.6"/>
<line x1="1798.35" y1="530.74" x2="1798.35" y2="587.75" stroke="#4d4d4f" stroke-width="2.6"/>
<rect x="1786.35" y="482.64" width="24.00" height="47.86" fill="#8ecade" stroke="#4d4d4f" stroke-width="2.5"/>
<rect x="1787.60" y="495.17" width="21.50" height="5.50" fill="#fff"/>
<line x1="1843.05" y1="469.69" x2="1843.05" y2="484.04" stroke="#4d4d4f" stroke-width="2.6"/>
<line x1="1843.05" y1="530.51" x2="1843.05" y2="574.78" stroke="#4d4d4f" stroke-width="2.6"/>
<rect x="1830.85" y="484.29" width="24.40" height="45.97" fill="#474ea1" stroke="#4d4d4f" stroke-width="2.5"/>
<rect x="1832.10" y="495.88" width="21.90" height="5.50" fill="#fff"/>
<line x1="1869.75" y1="445.64" x2="1869.75" y2="487.10" stroke="#4d4d4f" stroke-width="2.6"/>
<line x1="1869.75" y1="532.63" x2="1869.75" y2="590.34" stroke="#4d4d4f" stroke-width="2.6"/>
<rect x="1857.75" y="487.35" width="24.00" height="45.03" fill="#8ecade" stroke="#4d4d4f" stroke-width="2.5"/>
<rect x="1859.00" y="493.76" width="21.50" height="5.50" fill="#fff"/>
<line x1="1914.45" y1="473.70" x2="1914.45" y2="486.40" stroke="#4d4d4f" stroke-width="2.6"/>
<line x1="1914.45" y1="512.82" x2="1914.45" y2="526.90" stroke="#4d4d4f" stroke-width="2.6"/>
<rect x="1902.25" y="486.65" width="24.40" height="25.92" fill="#474ea1" stroke="#4d4d4f" stroke-width="2.5"/>
<rect x="1903.50" y="489.51" width="21.90" height="5.50" fill="#fff"/>
<line x1="1941.15" y1="477.48" x2="1941.15" y2="484.98" stroke="#4d4d4f" stroke-width="2.6"/>
<line x1="1941.15" y1="498.67" x2="1941.15" y2="512.04" stroke="#4d4d4f" stroke-width="2.6"/>
<rect x="1929.15" y="485.23" width="24.00" height="13.19" fill="#8ecade" stroke="#4d4d4f" stroke-width="2.5"/>
<rect x="1930.40" y="489.51" width="21.50" height="5.50" fill="#fff"/>
<line x1="1985.85" y1="470.64" x2="1985.85" y2="487.81" stroke="#4d4d4f" stroke-width="2.6"/>
<line x1="1985.85" y1="502.21" x2="1985.85" y2="518.88" stroke="#4d4d4f" stroke-width="2.6"/>
<rect x="1973.65" y="488.06" width="24.40" height="13.89" fill="#474ea1" stroke="#4d4d4f" stroke-width="2.5"/>
<rect x="1974.90" y="489.51" width="21.90" height="5.50" fill="#fff"/>
<line x1="2012.55" y1="473.47" x2="2012.55" y2="486.40" stroke="#4d4d4f" stroke-width="2.6"/>
<line x1="2012.55" y1="522.02" x2="2012.55" y2="551.66" stroke="#4d4d4f" stroke-width="2.6"/>
<rect x="2000.55" y="486.65" width="24.00" height="35.12" fill="#8ecade" stroke="#4d4d4f" stroke-width="2.5"/>
<rect x="2001.80" y="493.76" width="21.50" height="5.50" fill="#fff"/>
<line x1="2070.50" y1="404.60" x2="2070.50" y2="475.78" stroke="#4d4d4f" stroke-width="2.6"/>
<line x1="2070.50" y1="524.61" x2="2070.50" y2="595.30" stroke="#4d4d4f" stroke-width="2.6"/>
<rect x="2058.55" y="476.03" width="23.90" height="48.33" fill="#f47d76" stroke="#4d4d4f" stroke-width="2.5"/>
<rect x="2059.80" y="497.06" width="21.40" height="5.50" fill="#fff"/>
<line x1="1837.1" x2="1837.1" y1="0.40" y2="33.40" stroke="#4d4d4f" stroke-width="2.6"/>
<rect x="1824.85" y="6.55" width="24.50" height="20.70" fill="#474ea1" stroke="#4d4d4f" stroke-width="2.5"/>
<rect x="1826.10" y="14.20" width="22.00" height="5.6" fill="#fff"/>
<text x="1863.5" y="26.8" font-size="27.3">Inversion</text>
<line x1="1837.1" x2="1837.1" y1="52.60" y2="85.60" stroke="#4d4d4f" stroke-width="2.6"/>
<rect x="1824.85" y="58.75" width="24.50" height="20.70" fill="#8ecade" stroke="#4d4d4f" stroke-width="2.5"/>
<rect x="1826.10" y="66.40" width="22.00" height="5.6" fill="#fff"/>
<text x="1863.5" y="78.6" font-size="27.3">Standard</text>
<line x1="1837.1" x2="1837.1" y1="104.80" y2="137.80" stroke="#4d4d4f" stroke-width="2.6"/>
<rect x="1824.85" y="110.95" width="24.50" height="20.70" fill="#f47d76" stroke="#4d4d4f" stroke-width="2.5"/>
<rect x="1826.10" y="118.60" width="22.00" height="5.6" fill="#fff"/>
<text x="1863.5" y="130.6" font-size="27.3">Whole genome</text>
</svg></body></html>
